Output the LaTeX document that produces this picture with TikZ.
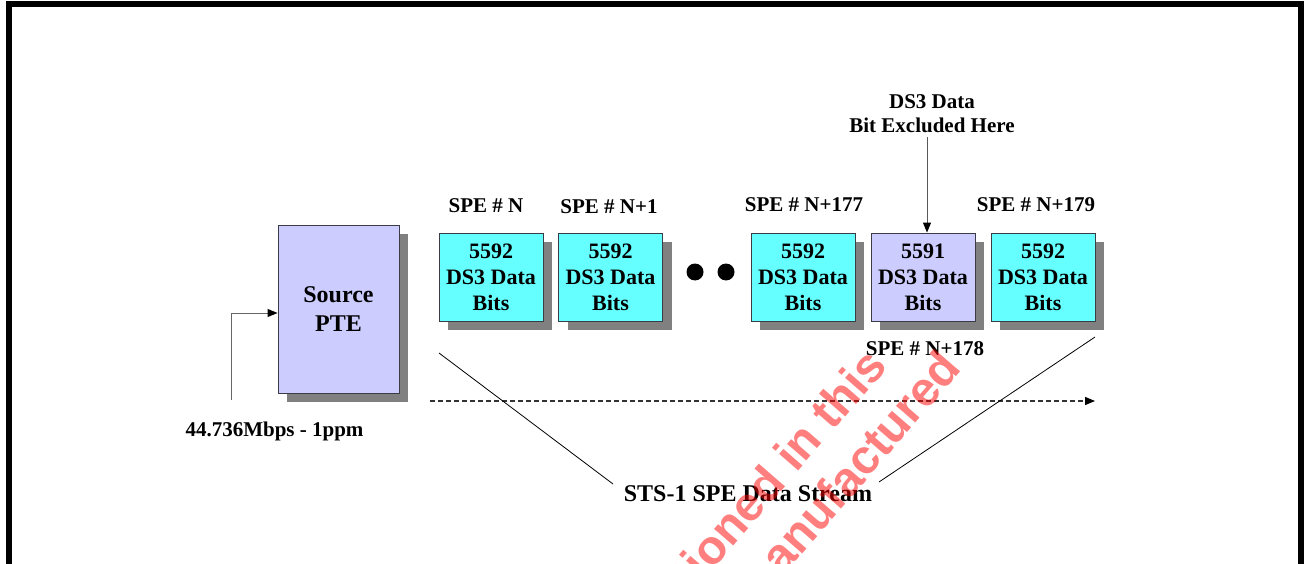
\documentclass[tikz,border=0pt]{standalone}
\usepackage{fontspec}
\setmainfont{Liberation Serif}
\newfontfamily\wmfont{Liberation Sans}
\usetikzlibrary{arrows.meta,shadows,calc}
\definecolor{cyanbox}{RGB}{102,255,255}
\definecolor{lavbox}{RGB}{204,204,255}
\definecolor{shadowgray}{RGB}{128,128,128}
\definecolor{edgegray}{RGB}{60,60,70}
\begin{document}
\begin{tikzpicture}[x=1pt,y=-1pt,
  boxbase/.style={draw=edgegray,line width=0.9pt,inner sep=0pt,align=center,
    drop shadow={shadow xshift=9pt,shadow yshift=-9pt,opacity=1,fill=shadowgray},
    font=\fontsize{22}{26}\selectfont\bfseries},
  spebox/.style={boxbase,fill=cyanbox,minimum width=104pt,minimum height=88pt},
  exbox/.style={boxbase,fill=lavbox,minimum width=104pt,minimum height=88pt},
  lbl/.style={inner sep=0pt,align=center,font=\fontsize{21}{24}\selectfont\bfseries},
  tip/.style={-{Triangle[length=10pt,width=8pt,color=black]}},
  wm/.style={red,opacity=0.5,rotate=49,inner sep=0pt,anchor=base east,
    font=\wmfont\fontsize{48}{50}\selectfont\bfseries}]
\useasboundingbox (0,0) rectangle (1304,564);
\begin{scope}
\clip (0,0) rectangle (1304,564);
% frame
\draw[line width=6pt] (9,600) -- (9,4) -- (1301,4) -- (1301,600);
% source
\node[boxbase,fill=lavbox,minimum width=121pt,minimum height=168pt,
  font=\fontsize{24}{29}\selectfont\bfseries] (src) at (338.5,309) {Source\\PTE};
\coordinate (inA) at (231,400);
\draw[gray!80!black,line width=1pt,tip] (inA) |- ($(src.west)+(0,4)$);
\node[lbl] (rate) at (274.5,431) {44.736Mbps - 1ppm};
% SPE boxes
\node[spebox] (b1) at (491,277) {5592\\DS3 Data\\Bits};
\node[spebox] (b2) at (610.5,277) {5592\\DS3 Data\\Bits};
\node[spebox] (b3) at (803,277) {5592\\DS3 Data\\Bits};
\node[exbox] (b4) at (923,277) {5591\\DS3 Data\\Bits};
\node[spebox] (b5) at (1043,277) {5592\\DS3 Data\\Bits};
\node[lbl] (l1) at (486,206) {SPE \# N};
\node[lbl] (l2) at (609,207) {SPE \# N+1};
\node[lbl] (l3) at (804,205) {SPE \# N+177};
\node[lbl] (l5) at (1036,205) {SPE \# N+179};
\node[lbl] (l4) at (925,349) {SPE \# N+178};
\fill (695,272) circle (8.5);
\fill (726,272) circle (8.5);
% excluded
\node[lbl] (ex) at (932,114) {DS3 Data\\Bit Excluded Here};
\coordinate (exs) at (927,137);
\draw[gray!70!black,line width=1pt,tip] (exs) -- (exs|-b4.north);
% stream
\coordinate (ds) at (430,401);
\coordinate (de) at (1095,401);
\draw[black!80,line width=1.2pt,dash pattern=on 5pt off 3pt,tip] (ds) -- (de);
\node[lbl,font=\fontsize{24}{28}\selectfont\bfseries] (sts) at (748,494) {STS-1 SPE Data Stream};
\coordinate (d1s) at (439,353);
\coordinate (d1e) at (613,484);
\coordinate (d2s) at (1095,337);
\coordinate (d2e) at (879,482);
\draw[line width=0.8pt] (d1s) -- (d1e);
\draw[line width=0.8pt] (d2s) -- (d2e);
% watermark
\node[wm] (wm1) at (889,367) {mentioned in this};
\node[wm] (wm2) at (963,369) {manufactured};
\end{scope}
\end{tikzpicture}
\end{document}
